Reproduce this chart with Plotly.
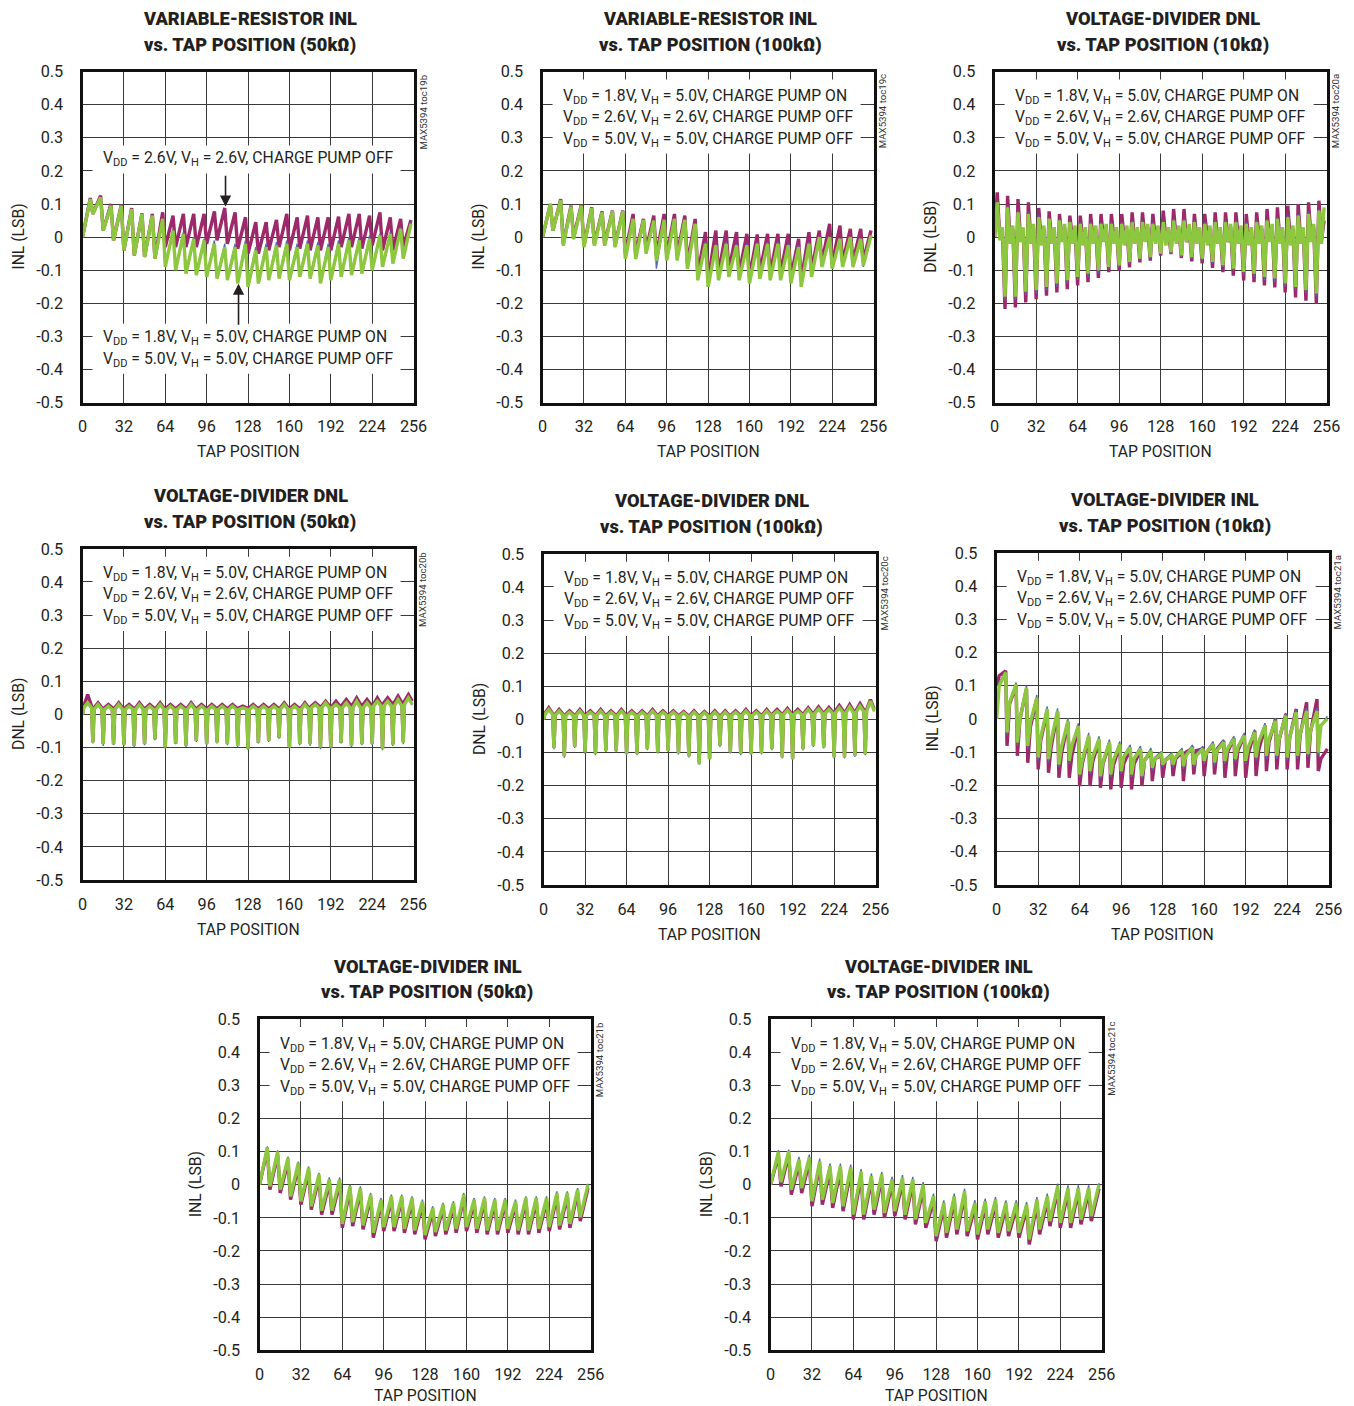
import plotly.graph_objects as go

# ------------------------------------------------------------------ data
TOOTH_START = [0, 8, 16, 24, 32, 40, 48, 56, 64, 72, 80, 88, 96, 104, 112, 120,
               128, 136, 144, 152, 160, 168, 176, 184, 192, 200, 208, 216, 224, 232, 240, 248]
X_TICKS = [0, 32, 64, 96, 128, 160, 192, 224, 256]
X_TICK_TEXT = ["0", "32", "64", "96", "128", "160", "192", "224", "256"]
Y_TICKS = [-0.5, -0.4, -0.3, -0.2, -0.1, 0.0, 0.1, 0.2, 0.3, 0.4, 0.5]
Y_TICK_TEXT = ["-0.5", "-0.4", "-0.3", "-0.2", "-0.1", "0", "0.1", "0.2", "0.3", "0.4", "0.5"]

LEG_LINES = [
    "V<sub>DD</sub> = 1.8V, V<sub>H</sub> = 5.0V, CHARGE PUMP ON",
    "V<sub>DD</sub> = 2.6V, V<sub>H</sub> = 2.6V, CHARGE PUMP OFF",
    "V<sub>DD</sub> = 5.0V, V<sub>H</sub> = 5.0V, CHARGE PUMP OFF",
]

# chart 1 : variable-resistor INL 50k (valley / peak of each 8-tap tooth)
C1_M_LO = [0.0, 0.07, 0.02, -0.01, -0.04, -0.055, -0.06, -0.065,
           -0.03, -0.03, -0.03, -0.03, -0.02, -0.01, -0.02, -0.035,
           -0.05, -0.05, -0.04, -0.03, -0.04, -0.035, -0.04, -0.04,
           -0.04, -0.03, -0.03, -0.035, -0.025, -0.04, -0.04, -0.03]
C1_M_HI = [0.118, 0.125, 0.1, 0.098, 0.088, 0.072, 0.07, 0.075,
           0.065, 0.07, 0.07, 0.07, 0.078, 0.088, 0.075, 0.06,
           0.045, 0.045, 0.052, 0.07, 0.06, 0.065, 0.06, 0.06,
           0.062, 0.07, 0.07, 0.065, 0.075, 0.06, 0.055, 0.052]
C1_B_LO = [0.0, 0.07, 0.02, -0.01, -0.04, -0.055, -0.06, -0.065,
           -0.085, -0.095, -0.105, -0.11, -0.115, -0.12, -0.125, -0.135,
           -0.145, -0.135, -0.125, -0.12, -0.125, -0.115, -0.12, -0.135,
           -0.125, -0.115, -0.11, -0.105, -0.095, -0.085, -0.075, -0.06]
C1_B_HI = [0.115, 0.12, 0.095, 0.095, 0.085, 0.07, 0.065, 0.055,
           0.025, 0.015, 0.0, -0.005, -0.01, -0.02, -0.02, -0.01,
           -0.03, -0.02, -0.015, -0.01, -0.02, -0.01, -0.015, -0.02,
           -0.01, 0.0, 0.0, 0.005, 0.01, 0.015, 0.03, 0.045]
C1_G_LO = [0.0, 0.07, 0.02, -0.01, -0.04, -0.055, -0.06, -0.065,
           -0.09, -0.1, -0.11, -0.115, -0.12, -0.125, -0.13, -0.14,
           -0.15, -0.14, -0.13, -0.125, -0.13, -0.12, -0.125, -0.14,
           -0.13, -0.12, -0.115, -0.11, -0.1, -0.09, -0.08, -0.065]
C1_G_HI = [0.115, 0.12, 0.095, 0.095, 0.085, 0.07, 0.065, 0.055,
           0.02, 0.01, -0.005, -0.01, -0.02, -0.03, -0.03, -0.02,
           -0.04, -0.03, -0.025, -0.02, -0.03, -0.02, -0.025, -0.03,
           -0.02, -0.01, -0.01, -0.005, 0.005, 0.01, 0.025, 0.04]

# chart 2 : variable-resistor INL 100k
C2_M_LO = [0.0, 0.02, -0.02, 0.0, -0.025, -0.02, -0.02, -0.025,
           -0.05, -0.05, -0.04, -0.055, -0.055, -0.055, -0.08, -0.11,
           -0.13, -0.11, -0.1, -0.11, -0.12, -0.105, -0.11, -0.11,
           -0.12, -0.13, -0.1, -0.075, -0.08, -0.075, -0.075, -0.07]
C2_M_HI = [0.1, 0.115, 0.095, 0.098, 0.09, 0.078, 0.08, 0.08,
           0.07, 0.055, 0.065, 0.07, 0.07, 0.065, 0.055, 0.015,
           0.02, 0.02, 0.015, 0.01, 0.008, 0.01, 0.01, 0.01,
           -0.005, 0.015, 0.02, 0.04, 0.035, 0.025, 0.025, 0.02]
C2_B_LO = [0.0, 0.02, -0.026, -0.006, -0.03, -0.026, -0.026, -0.03,
           -0.066, -0.066, -0.05, -0.095, -0.07, -0.07, -0.096, -0.13,
           -0.15, -0.13, -0.12, -0.13, -0.14, -0.126, -0.13, -0.13,
           -0.14, -0.15, -0.12, -0.09, -0.095, -0.09, -0.09, -0.09]
C2_B_HI = [0.1, 0.112, 0.092, 0.095, 0.088, 0.075, 0.078, 0.078,
           0.055, 0.052, 0.05, 0.052, 0.055, 0.052, 0.04, -0.015,
           -0.02, -0.015, -0.02, -0.02, -0.015, -0.015, -0.015, -0.02,
           -0.025, -0.015, 0.0, 0.0, -0.005, 0.0, -0.005, 0.0]
C2_G_LO = [0.0, 0.02, -0.026, -0.006, -0.03, -0.026, -0.026, -0.03,
           -0.066, -0.066, -0.05, -0.07, -0.07, -0.07, -0.096, -0.13,
           -0.15, -0.13, -0.12, -0.13, -0.14, -0.126, -0.13, -0.13,
           -0.14, -0.15, -0.12, -0.09, -0.095, -0.09, -0.09, -0.086]
C2_G_HI = [0.1, 0.112, 0.092, 0.095, 0.088, 0.075, 0.078, 0.078,
           0.055, 0.052, 0.05, 0.052, 0.055, 0.052, 0.04, -0.02,
           -0.025, -0.02, -0.025, -0.025, -0.02, -0.02, -0.02, -0.025,
           -0.03, -0.02, 0.0, 0.0, -0.005, 0.0, -0.005, 0.005]

# chart 3 : voltage-divider DNL 10k (down spike, up spike, two baseline values)
C3_M_D = [0.0, -0.217, -0.212, -0.197, -0.187, -0.177, -0.167, -0.157,
          -0.146, -0.136, -0.123, -0.106, -0.101, -0.091, -0.076, -0.071,
          -0.056, -0.051, -0.063, -0.073, -0.079, -0.093, -0.106, -0.116,
          -0.131, -0.136, -0.146, -0.152, -0.167, -0.182, -0.192, -0.2]
C3_M_U = [0.135, 0.125, 0.115, 0.105, 0.088, 0.078, 0.07, 0.065,
          0.065, 0.07, 0.07, 0.07, 0.07, 0.075, 0.075, 0.07,
          0.08, 0.085, 0.085, 0.07, 0.07, 0.075, 0.075, 0.075,
          0.07, 0.075, 0.085, 0.09, 0.095, 0.1, 0.105, 0.11]
C3_M_B = [0.0, -0.01, -0.005, -0.01, -0.015, -0.01, -0.01, -0.005,
          -0.01, -0.015, -0.01, -0.005, -0.01, -0.015, -0.01, -0.01,
          -0.005, -0.01, -0.015, -0.01, -0.005, -0.01, -0.015, -0.01,
          -0.01, -0.005, -0.01, -0.015, -0.01, -0.01, -0.005, -0.01]
C3_M_C = [0.02, 0.025, 0.02, 0.03, 0.025, 0.02, 0.03, 0.025,
          0.02, 0.025, 0.03, 0.02, 0.025, 0.02, 0.03, 0.025,
          0.02, 0.025, 0.03, 0.02, 0.025, 0.02, 0.03, 0.025,
          0.02, 0.025, 0.03, 0.02, 0.025, 0.02, 0.03, 0.05]
C3_B_D = [0.0, -0.19, -0.19, -0.175, -0.17, -0.16, -0.15, -0.14,
          -0.13, -0.12, -0.11, -0.095, -0.09, -0.08, -0.07, -0.065,
          -0.05, -0.05, -0.06, -0.065, -0.07, -0.08, -0.09, -0.1,
          -0.115, -0.12, -0.13, -0.135, -0.15, -0.16, -0.17, -0.18]
C3_B_U = [0.11, 0.095, 0.08, 0.075, 0.065, 0.06, 0.055, 0.05,
          0.045, 0.045, 0.045, 0.045, 0.045, 0.05, 0.05, 0.045,
          0.05, 0.055, 0.055, 0.05, 0.045, 0.05, 0.05, 0.05,
          0.045, 0.05, 0.055, 0.06, 0.065, 0.07, 0.075, 0.085]
C3_B_B = [-0.005, -0.015, -0.01, -0.015, -0.02, -0.015, -0.01, -0.015,
          -0.02, -0.015, -0.01, -0.015, -0.02, -0.015, -0.01, -0.015,
          -0.02, -0.015, -0.01, -0.015, -0.02, -0.015, -0.01, -0.015,
          -0.02, -0.015, -0.01, -0.015, -0.02, -0.015, -0.01, -0.015]
C3_B_C = [0.025, 0.03, 0.025, 0.035, 0.03, 0.025, 0.035, 0.03,
          0.025, 0.03, 0.035, 0.025, 0.03, 0.025, 0.035, 0.03,
          0.025, 0.03, 0.035, 0.025, 0.03, 0.025, 0.035, 0.03,
          0.025, 0.03, 0.035, 0.025, 0.03, 0.025, 0.035, 0.08]
C3_G_D = [0.0, -0.18, -0.18, -0.165, -0.16, -0.15, -0.14, -0.13,
          -0.12, -0.11, -0.1, -0.09, -0.085, -0.075, -0.065, -0.06,
          -0.05, -0.045, -0.055, -0.06, -0.065, -0.075, -0.085, -0.095,
          -0.105, -0.11, -0.12, -0.125, -0.14, -0.15, -0.16, -0.17]
C3_G_U = [0.105, 0.09, 0.075, 0.07, 0.06, 0.055, 0.05, 0.045,
          0.04, 0.04, 0.04, 0.04, 0.04, 0.045, 0.045, 0.04,
          0.045, 0.05, 0.05, 0.045, 0.04, 0.045, 0.045, 0.045,
          0.04, 0.045, 0.05, 0.055, 0.06, 0.065, 0.07, 0.08]
C3_G_B = [-0.01, -0.02, -0.015, -0.02, -0.025, -0.02, -0.015, -0.02,
          -0.025, -0.02, -0.015, -0.02, -0.025, -0.02, -0.015, -0.02,
          -0.025, -0.02, -0.015, -0.02, -0.025, -0.02, -0.015, -0.02,
          -0.025, -0.02, -0.015, -0.02, -0.025, -0.02, -0.015, -0.02]
C3_G_C = [0.03, 0.035, 0.03, 0.04, 0.035, 0.03, 0.04, 0.035,
          0.03, 0.035, 0.04, 0.03, 0.035, 0.03, 0.04, 0.035,
          0.03, 0.035, 0.04, 0.03, 0.035, 0.03, 0.04, 0.035,
          0.03, 0.035, 0.04, 0.03, 0.035, 0.03, 0.04, 0.09]

# chart 4 : voltage-divider DNL 50k
C4_M_D = [0.0, -0.083, -0.088, -0.09, -0.09, -0.093, -0.088, -0.075,
          -0.098, -0.088, -0.093, -0.08, -0.088, -0.083, -0.088, -0.093,
          -0.103, -0.085, -0.08, -0.07, -0.098, -0.088, -0.088, -0.098,
          -0.098, -0.085, -0.093, -0.088, -0.088, -0.103, -0.09, -0.083]
C4_M_B = [0.025, 0.02, 0.02, 0.02, 0.02, 0.02, 0.02, 0.02,
          0.02, 0.02, 0.02, 0.02, 0.02, 0.02, 0.02, 0.02,
          0.02, 0.02, 0.02, 0.02, 0.02, 0.02, 0.025, 0.025,
          0.025, 0.03, 0.03, 0.03, 0.03, 0.035, 0.035, 0.04]
C4_M_C = [0.06, 0.035, 0.03, 0.035, 0.03, 0.035, 0.03, 0.035,
          0.03, 0.03, 0.035, 0.03, 0.03, 0.03, 0.03, 0.025,
          0.03, 0.03, 0.03, 0.035, 0.03, 0.035, 0.035, 0.04,
          0.04, 0.045, 0.05, 0.045, 0.05, 0.05, 0.055, 0.06]
C4_B_D = [0.0, -0.088, -0.095, -0.092, -0.095, -0.098, -0.093, -0.078,
          -0.103, -0.09, -0.098, -0.083, -0.093, -0.088, -0.093, -0.098,
          -0.108, -0.088, -0.083, -0.073, -0.103, -0.093, -0.095, -0.105,
          -0.104, -0.088, -0.098, -0.093, -0.093, -0.108, -0.095, -0.09]
C4_B_B = [0.018, 0.014, 0.014, 0.014, 0.014, 0.014, 0.014, 0.014,
          0.014, 0.014, 0.014, 0.014, 0.014, 0.014, 0.014, 0.014,
          0.014, 0.014, 0.014, 0.014, 0.014, 0.014, 0.018, 0.018,
          0.018, 0.018, 0.018, 0.018, 0.022, 0.022, 0.022, 0.028]
C4_B_C = [0.032, 0.028, 0.024, 0.028, 0.024, 0.028, 0.024, 0.028,
          0.024, 0.024, 0.028, 0.024, 0.024, 0.024, 0.024, 0.02,
          0.024, 0.024, 0.024, 0.028, 0.024, 0.028, 0.028, 0.032,
          0.028, 0.032, 0.038, 0.032, 0.038, 0.038, 0.042, 0.048]
C4_G_D = [0.0, -0.085, -0.09, -0.09, -0.092, -0.095, -0.09, -0.075,
          -0.1, -0.088, -0.095, -0.08, -0.09, -0.085, -0.09, -0.095,
          -0.105, -0.085, -0.08, -0.07, -0.1, -0.09, -0.09, -0.1,
          -0.1, -0.085, -0.095, -0.09, -0.09, -0.105, -0.092, -0.085]
C4_G_B = [0.02, 0.015, 0.015, 0.015, 0.015, 0.015, 0.015, 0.015,
          0.015, 0.015, 0.015, 0.015, 0.015, 0.015, 0.015, 0.015,
          0.015, 0.015, 0.015, 0.015, 0.015, 0.015, 0.02, 0.02,
          0.02, 0.02, 0.02, 0.02, 0.025, 0.025, 0.025, 0.03]
C4_G_C = [0.035, 0.03, 0.025, 0.03, 0.025, 0.03, 0.025, 0.03,
          0.025, 0.025, 0.03, 0.025, 0.025, 0.025, 0.025, 0.02,
          0.025, 0.025, 0.025, 0.03, 0.025, 0.03, 0.03, 0.035,
          0.03, 0.035, 0.04, 0.035, 0.04, 0.04, 0.045, 0.05]

# chart 5 : voltage-divider DNL 100k
C5_M_D = [0.0, -0.085, -0.11, -0.082, -0.098, -0.103, -0.093, -0.095,
          -0.103, -0.103, -0.088, -0.098, -0.093, -0.1, -0.11, -0.13,
          -0.118, -0.078, -0.098, -0.103, -0.103, -0.1, -0.088, -0.112,
          -0.118, -0.088, -0.078, -0.083, -0.112, -0.112, -0.108, -0.103]
C5_M_B = [0.018, 0.015, 0.015, 0.015, 0.015, 0.015, 0.015, 0.015,
          0.015, 0.015, 0.015, 0.015, 0.015, 0.013, 0.013, 0.013,
          0.013, 0.013, 0.015, 0.015, 0.015, 0.015, 0.018, 0.018,
          0.018, 0.02, 0.022, 0.022, 0.025, 0.025, 0.028, 0.03]
C5_M_C = [0.035, 0.03, 0.026, 0.03, 0.026, 0.03, 0.026, 0.03,
          0.026, 0.026, 0.03, 0.026, 0.026, 0.024, 0.026, 0.024,
          0.026, 0.026, 0.026, 0.03, 0.026, 0.03, 0.03, 0.033,
          0.03, 0.035, 0.038, 0.036, 0.042, 0.045, 0.048, 0.06]
C5_B_D = [0.0, -0.09, -0.116, -0.086, -0.104, -0.108, -0.098, -0.1,
          -0.108, -0.108, -0.093, -0.103, -0.098, -0.106, -0.115, -0.137,
          -0.123, -0.083, -0.103, -0.108, -0.108, -0.106, -0.093, -0.118,
          -0.123, -0.093, -0.083, -0.088, -0.118, -0.118, -0.113, -0.108]
C5_B_B = [0.014, 0.011, 0.011, 0.011, 0.011, 0.011, 0.011, 0.011,
          0.011, 0.011, 0.011, 0.011, 0.011, 0.009, 0.009, 0.009,
          0.009, 0.009, 0.011, 0.011, 0.011, 0.011, 0.014, 0.014,
          0.014, 0.014, 0.017, 0.017, 0.019, 0.019, 0.021, 0.024]
C5_B_C = [0.028, 0.024, 0.021, 0.024, 0.021, 0.024, 0.021, 0.024,
          0.021, 0.021, 0.024, 0.021, 0.021, 0.019, 0.021, 0.019,
          0.021, 0.021, 0.021, 0.024, 0.021, 0.024, 0.024, 0.027,
          0.024, 0.029, 0.031, 0.029, 0.034, 0.037, 0.039, 0.052]
C5_G_D = [0.0, -0.087, -0.112, -0.083, -0.1, -0.105, -0.095, -0.097,
          -0.105, -0.105, -0.09, -0.1, -0.095, -0.103, -0.112, -0.135,
          -0.12, -0.08, -0.1, -0.105, -0.105, -0.103, -0.09, -0.115,
          -0.12, -0.09, -0.08, -0.085, -0.115, -0.115, -0.11, -0.105]
C5_G_B = [0.015, 0.012, 0.012, 0.012, 0.012, 0.012, 0.012, 0.012,
          0.012, 0.012, 0.012, 0.012, 0.012, 0.01, 0.01, 0.01,
          0.01, 0.01, 0.012, 0.012, 0.012, 0.012, 0.015, 0.015,
          0.015, 0.015, 0.018, 0.018, 0.02, 0.02, 0.022, 0.025]
C5_G_C = [0.03, 0.025, 0.022, 0.025, 0.022, 0.025, 0.022, 0.025,
          0.022, 0.022, 0.025, 0.022, 0.022, 0.02, 0.022, 0.02,
          0.022, 0.022, 0.022, 0.025, 0.022, 0.025, 0.025, 0.028,
          0.025, 0.03, 0.032, 0.03, 0.035, 0.038, 0.04, 0.055]

# chart 6 : voltage-divider INL 10k (notch, restart after notch, top of tooth)
C6_M_N = [0.1, -0.081, -0.111, -0.132, -0.152, -0.162, -0.177, -0.177,
          -0.202, -0.202, -0.207, -0.212, -0.207, -0.212, -0.202, -0.187,
          -0.177, -0.172, -0.187, -0.167, -0.172, -0.167, -0.177, -0.172,
          -0.177, -0.172, -0.157, -0.152, -0.152, -0.152, -0.147, -0.157]
C6_M_R = [0.13, 0.045, 0.0, -0.025, -0.065, -0.085, -0.105, -0.11,
          -0.135, -0.13, -0.135, -0.14, -0.135, -0.135, -0.125, -0.12,
          -0.125, -0.12, -0.1, -0.095, -0.1, -0.09, -0.1, -0.095,
          -0.105, -0.095, -0.07, -0.06, -0.055, -0.05, -0.04, -0.12]
C6_M_T = [0.145, 0.1, 0.09, 0.06, 0.025, 0.02, -0.01, -0.025,
          -0.055, -0.065, -0.075, -0.08, -0.09, -0.095, -0.1, -0.11,
          -0.11, -0.1, -0.09, -0.09, -0.08, -0.066, -0.058, -0.05,
          -0.036, -0.02, 0.0, 0.015, 0.03, 0.05, 0.06, -0.09]
C6_B_N = [0.05, -0.05, -0.08, -0.09, -0.125, -0.13, -0.145, -0.135,
          -0.175, -0.165, -0.18, -0.175, -0.165, -0.175, -0.18, -0.155,
          -0.145, -0.145, -0.15, -0.145, -0.135, -0.14, -0.135, -0.13,
          -0.135, -0.125, -0.12, -0.12, -0.125, -0.12, -0.115, -0.11]
C6_B_R = [0.11, 0.05, 0.0, -0.01, -0.055, -0.065, -0.085, -0.08,
          -0.12, -0.11, -0.125, -0.12, -0.11, -0.115, -0.12, -0.115,
          -0.12, -0.11, -0.105, -0.105, -0.095, -0.09, -0.085, -0.08,
          -0.08, -0.065, -0.055, -0.05, -0.05, -0.04, -0.03, -0.02]
C6_B_T = [0.145, 0.11, 0.1, 0.072, 0.038, 0.032, 0.002, -0.013,
          -0.042, -0.052, -0.062, -0.068, -0.078, -0.082, -0.088, -0.098,
          -0.102, -0.088, -0.078, -0.082, -0.068, -0.062, -0.052, -0.042,
          -0.032, -0.012, 0.002, 0.018, 0.028, 0.032, 0.032, 0.008]
C6_G_N = [0.0, -0.041, -0.071, -0.081, -0.116, -0.121, -0.137, -0.126,
          -0.167, -0.157, -0.172, -0.167, -0.157, -0.167, -0.172, -0.147,
          -0.137, -0.137, -0.142, -0.137, -0.126, -0.131, -0.126, -0.121,
          -0.126, -0.116, -0.111, -0.111, -0.116, -0.111, -0.106, -0.101]
C6_G_R = [0.1, 0.05, 0.0, -0.01, -0.055, -0.065, -0.085, -0.08,
          -0.125, -0.115, -0.13, -0.125, -0.115, -0.12, -0.125, -0.12,
          -0.125, -0.115, -0.11, -0.11, -0.1, -0.095, -0.09, -0.085,
          -0.085, -0.07, -0.06, -0.055, -0.055, -0.045, -0.035, -0.02]
C6_G_T = [0.14, 0.104, 0.094, 0.064, 0.03, 0.024, -0.006, -0.021,
          -0.05, -0.06, -0.07, -0.076, -0.086, -0.09, -0.096, -0.106,
          -0.11, -0.096, -0.086, -0.09, -0.076, -0.07, -0.06, -0.05,
          -0.04, -0.02, -0.006, 0.01, 0.02, 0.024, 0.024, 0.0]

# chart 7 : voltage-divider INL 50k
C7_M_LO = [0.0, -0.015, -0.025, -0.045, -0.06, -0.075, -0.09, -0.09,
           -0.13, -0.125, -0.135, -0.16, -0.14, -0.14, -0.145, -0.15,
           -0.165, -0.155, -0.15, -0.145, -0.14, -0.145, -0.15, -0.15,
           -0.145, -0.15, -0.15, -0.145, -0.14, -0.135, -0.13, -0.11]
C7_M_HI = [0.105, 0.09, 0.07, 0.055, 0.04, 0.02, 0.005, 0.005,
           -0.015, -0.02, -0.04, -0.055, -0.045, -0.045, -0.05, -0.06,
           -0.08, -0.07, -0.065, -0.04, -0.055, -0.05, -0.055, -0.055,
           -0.06, -0.05, -0.05, -0.05, -0.035, -0.035, -0.025, -0.01]
C7_B_LO = [0.0, -0.006, -0.016, -0.036, -0.051, -0.066, -0.079, -0.079,
           -0.119, -0.114, -0.124, -0.146, -0.129, -0.129, -0.134, -0.139,
           -0.153, -0.144, -0.139, -0.134, -0.129, -0.134, -0.139, -0.139,
           -0.134, -0.139, -0.139, -0.134, -0.129, -0.124, -0.119, -0.099]
C7_B_HI = [0.116, 0.104, 0.085, 0.07, 0.055, 0.036, 0.022, 0.022,
           0.0, -0.005, -0.025, -0.04, -0.03, -0.03, -0.035, -0.045,
           -0.065, -0.055, -0.05, -0.025, -0.04, -0.035, -0.04, -0.04,
           -0.045, -0.035, -0.035, -0.035, -0.02, -0.02, -0.01, 0.003]
C7_G_LO = [0.0, -0.005, -0.015, -0.035, -0.05, -0.065, -0.078, -0.078,
           -0.118, -0.113, -0.123, -0.145, -0.128, -0.128, -0.133, -0.138,
           -0.152, -0.143, -0.138, -0.133, -0.128, -0.133, -0.138, -0.138,
           -0.133, -0.138, -0.138, -0.133, -0.128, -0.123, -0.118, -0.098]
C7_G_HI = [0.113, 0.1, 0.081, 0.066, 0.051, 0.031, 0.016, 0.016,
           -0.005, -0.01, -0.03, -0.045, -0.035, -0.035, -0.04, -0.05,
           -0.07, -0.06, -0.055, -0.03, -0.045, -0.04, -0.045, -0.045,
           -0.05, -0.04, -0.04, -0.04, -0.025, -0.025, -0.015, 0.0]

# chart 8 : voltage-divider INL 100k
C8_M_LO = [0.0, -0.005, -0.03, -0.025, -0.065, -0.06, -0.07, -0.08,
           -0.105, -0.105, -0.09, -0.1, -0.095, -0.105, -0.12, -0.13,
           -0.17, -0.16, -0.15, -0.155, -0.165, -0.15, -0.16, -0.155,
           -0.16, -0.18, -0.15, -0.125, -0.13, -0.13, -0.12, -0.11]
C8_M_HI = [0.088, 0.09, 0.064, 0.07, 0.058, 0.044, 0.044, 0.04,
           0.026, 0.014, 0.018, 0.004, 0.008, 0.004, -0.012, -0.048,
           -0.068, -0.048, -0.032, -0.068, -0.062, -0.058, -0.068, -0.068,
           -0.072, -0.058, -0.048, -0.018, -0.022, -0.022, -0.022, -0.012]
C8_B_LO = [0.0, 0.006, -0.017, -0.012, -0.052, -0.047, -0.057, -0.067,
           -0.092, -0.092, -0.077, -0.087, -0.082, -0.092, -0.107, -0.117,
           -0.157, -0.147, -0.137, -0.142, -0.152, -0.137, -0.147, -0.142,
           -0.147, -0.167, -0.137, -0.112, -0.117, -0.117, -0.107, -0.097]
C8_B_HI = [0.104, 0.106, 0.084, 0.091, 0.079, 0.064, 0.064, 0.061,
           0.047, 0.034, 0.039, 0.024, 0.029, 0.024, 0.008, -0.027,
           -0.047, -0.027, -0.012, -0.047, -0.042, -0.037, -0.047, -0.047,
           -0.052, -0.037, -0.027, 0.003, -0.002, -0.002, -0.002, 0.005]
C8_G_LO = [0.0, 0.008, -0.015, -0.01, -0.05, -0.045, -0.055, -0.065,
           -0.09, -0.09, -0.075, -0.085, -0.08, -0.09, -0.105, -0.115,
           -0.155, -0.145, -0.135, -0.14, -0.15, -0.135, -0.145, -0.14,
           -0.145, -0.165, -0.135, -0.11, -0.115, -0.115, -0.105, -0.095]
C8_G_HI = [0.099, 0.101, 0.076, 0.083, 0.071, 0.056, 0.056, 0.053,
           0.039, 0.026, 0.031, 0.016, 0.021, 0.016, 0.0, -0.035,
           -0.055, -0.035, -0.02, -0.055, -0.05, -0.045, -0.055, -0.055,
           -0.06, -0.045, -0.035, -0.005, -0.01, -0.01, -0.01, 0.0]

# ------------------------------------------------------------------ styling / layout
# Screen positions below are those of the reference picture.  The photographed
# page comes out at ~0.986 of the CSS size with a small offset, so the figure is
# made a little larger and screen positions are converted to figure pixels.
S = 0.986
CX, CY = 4.5, 8.5
W, H = 1370, 1418
K = 1 / S
FONT = "Roboto, Liberation Sans, sans-serif"
MAG, BLU, GRN = "#9c2a6b", "#5a68b2", "#8dc63f"
TXT = "#231f20"

# tap offsets inside each 8-tap tooth at which the read values sit
SAW = [(0, "lo"), (6, "hi")]
DNL10 = [(0, "D"), (2, "U"), (4, "B"), (6, "C")]
DNL = [(0, "D"), (1, "B"), (4, "C"), (7, "B")]
NOTCH = [(0, "N"), (2, "R"), (7, "T")]

CHARTS = [
    dict(frame=(82, 71, 413, 402), title=("VARIABLE-RESISTOR INL", "vs. TAP POSITION (50kΩ)"),
         ylab="INL (LSB)", code="MAX5394 toc19b", spec=SAW, legend="split",
         series=[{"lo": C1_M_LO, "hi": C1_M_HI}, {"lo": C1_B_LO, "hi": C1_B_HI}, {"lo": C1_G_LO, "hi": C1_G_HI}]),
    dict(frame=(542, 71, 873, 402), title=("VARIABLE-RESISTOR INL", "vs. TAP POSITION (100kΩ)"),
         ylab="INL (LSB)", code="MAX5394 toc19c", spec=SAW, legend="top",
         series=[{"lo": C2_M_LO, "hi": C2_M_HI}, {"lo": C2_B_LO, "hi": C2_B_HI}, {"lo": C2_G_LO, "hi": C2_G_HI}]),
    dict(frame=(994, 71, 1326, 402), title=("VOLTAGE-DIVIDER DNL", "vs. TAP POSITION (10kΩ)"),
         ylab="DNL (LSB)", code="MAX5394 toc20a", spec=DNL10, legend="top",
         series=[{"D": C3_M_D, "U": C3_M_U, "B": C3_M_B, "C": C3_M_C},
                 {"D": C3_B_D, "U": C3_B_U, "B": C3_B_B, "C": C3_B_C},
                 {"D": C3_G_D, "U": C3_G_U, "B": C3_G_B, "C": C3_G_C}]),
    dict(frame=(82, 548, 413, 879), title=("VOLTAGE-DIVIDER DNL", "vs. TAP POSITION (50kΩ)"),
         ylab="DNL (LSB)", code="MAX5394 toc20b", spec=DNL, legend="top",
         series=[{"D": C4_M_D, "B": C4_M_B, "C": C4_M_C},
                 {"D": C4_B_D, "B": C4_B_B, "C": C4_B_C},
                 {"D": C4_G_D, "B": C4_G_B, "C": C4_G_C}]),
    dict(frame=(543, 553, 875, 884), title=("VOLTAGE-DIVIDER DNL", "vs. TAP POSITION (100kΩ)"),
         ylab="DNL (LSB)", code="MAX5394 toc20c", spec=DNL, legend="top",
         series=[{"D": C5_M_D, "B": C5_M_B, "C": C5_M_C},
                 {"D": C5_B_D, "B": C5_B_B, "C": C5_B_C},
                 {"D": C5_G_D, "B": C5_G_B, "C": C5_G_C}]),
    dict(frame=(996, 552, 1328, 884), title=("VOLTAGE-DIVIDER INL", "vs. TAP POSITION (10kΩ)"),
         ylab="INL (LSB)", code="MAX5394 toc21a", spec=NOTCH, legend="top",
         series=[{"N": C6_M_N, "R": C6_M_R, "T": C6_M_T},
                 {"N": C6_B_N, "R": C6_B_R, "T": C6_B_T},
                 {"N": C6_G_N, "R": C6_G_R, "T": C6_G_T}]),
    dict(frame=(259, 1018, 590, 1349), title=("VOLTAGE-DIVIDER INL", "vs. TAP POSITION (50kΩ)"),
         ylab="INL (LSB)", code="MAX5394 toc21b", spec=SAW, legend="top",
         series=[{"lo": C7_M_LO, "hi": C7_M_HI}, {"lo": C7_B_LO, "hi": C7_B_HI}, {"lo": C7_G_LO, "hi": C7_G_HI}]),
    dict(frame=(770, 1018, 1101, 1349), title=("VOLTAGE-DIVIDER INL", "vs. TAP POSITION (100kΩ)"),
         ylab="INL (LSB)", code="MAX5394 toc21c", spec=SAW, legend="top",
         series=[{"lo": C8_M_LO, "hi": C8_M_HI}, {"lo": C8_B_LO, "hi": C8_B_HI}, {"lo": C8_G_LO, "hi": C8_G_HI}]),
]

STYLES = [dict(color=MAG, width=3.4), dict(color=BLU, width=1.4), dict(color=GRN, width=3.4)]


def polyline(spec, arrs):
    xs, ys = [], []
    for k, t0 in enumerate(TOOTH_START):
        for off, key in spec:
            xs.append(t0 + off)
            ys.append(arrs[key][k])
    return xs, ys


def px(x):
    return ((x - CX) / S) / W


def py(y):
    return 1 - ((y - CY) / S) / H


def text(x, y, s, size, xanchor="center", angle=0, color=TXT, weight="normal", yanchor="middle"):
    return dict(x=px(x), y=py(y), xref="paper", yref="paper", text=s, showarrow=False,
                xanchor=xanchor, yanchor=yanchor, textangle=angle,
                font=dict(family=FONT, size=size * K, color=color, weight=weight))


def white_box(x0, y0, x1, y1):
    return dict(type="rect", xref="paper", yref="paper", x0=px(x0), x1=px(x1),
                y0=py(y1), y1=py(y0), fillcolor="white", line=dict(width=0), layer="above")


fig = go.Figure()
layout = dict(width=W, height=H, margin=dict(l=0, r=0, t=0, b=0),
              paper_bgcolor="white", plot_bgcolor="white", showlegend=False,
              hovermode=False, font=dict(family=FONT, color=TXT, size=16 * K))
annotations = []
shapes = []

for i, ch in enumerate(CHARTS, start=1):
    l, t, r, b = ch["frame"]
    xa = "x" if i == 1 else f"x{i}"
    ya = "y" if i == 1 else f"y{i}"
    for arrs, st in zip(ch["series"], STYLES):
        xs, ys = polyline(ch["spec"], arrs)
        fig.add_trace(go.Scatter(x=xs, y=ys, mode="lines", line=dict(st, shape="linear"),
                                 xaxis=xa, yaxis=ya, hoverinfo="skip"))
    common = dict(showgrid=True, gridcolor="#3a3a3a", gridwidth=1.4, zeroline=False,
                  showline=True, linecolor="#111111", linewidth=3.2, mirror=True,
                  ticks="", tickfont=dict(family=FONT, size=16 * K, color=TXT), fixedrange=True)
    layout["xaxis" if i == 1 else f"xaxis{i}"] = dict(
        common, domain=[px(l), px(r)], range=[0, 256], tickmode="array",
        tickvals=X_TICKS, ticktext=X_TICK_TEXT, anchor=ya, ticklabelstandoff=7)
    layout["yaxis" if i == 1 else f"yaxis{i}"] = dict(
        common, domain=[py(b), py(t)], range=[-0.5, 0.5], tickmode="array",
        tickvals=Y_TICKS, ticktext=Y_TICK_TEXT, anchor=xa, ticklabelstandoff=13)

    cx = (l + r) / 2
    cy = (t + b) / 2
    # two-line bold title
    annotations.append(text(cx + 2, t - 53, ch["title"][0], 18, weight=900))
    annotations.append(text(cx + 2, t - 27, ch["title"][1], 18, weight=900))
    # axis titles (the bottom row sits close to the page edge)
    annotations.append(text(l - 64, cy, ch["ylab"], 15.5, angle=-90))
    annotations.append(text(cx, b + (45 if b > 1300 else 49), "TAP POSITION", 15.5))
    # figure code on the right
    annotations.append(text(r + 9, t + 1, ch["code"], 9.5, angle=-90, color="#333333", yanchor="top"))
    # condition labels on white boxes that hide the grid behind them
    if ch["legend"] == "top":
        shapes.append(white_box(l + 10, t + 8, r - 13, t + 82))
        for j, yy in enumerate((25, 46, 68)):
            annotations.append(text(l + 18, t + yy, LEG_LINES[j], 15.5, xanchor="left"))
    else:
        shapes.append(white_box(l + 10, t + 74, r - 13, t + 102))
        annotations.append(text(l + 18, t + 87, LEG_LINES[1], 15.5, xanchor="left"))
        shapes.append(white_box(l + 10, t + 252, r - 13, t + 302))
        annotations.append(text(l + 18, t + 266, LEG_LINES[0], 15.5, xanchor="left"))
        annotations.append(text(l + 18, t + 288, LEG_LINES[2], 15.5, xanchor="left"))
        # arrows pointing to the curves
        annotations.append(dict(x=px(225), y=py(206), xref="paper", yref="paper", text="",
                                showarrow=True, ax=0, ay=-32 * K, arrowhead=2, arrowsize=1.4,
                                arrowwidth=1.6, arrowcolor=TXT))
        annotations.append(dict(x=px(238), y=py(283), xref="paper", yref="paper", text="",
                                showarrow=True, ax=0, ay=42 * K, arrowhead=2, arrowsize=1.4,
                                arrowwidth=1.6, arrowcolor=TXT))

layout["annotations"] = annotations
layout["shapes"] = shapes
fig.update_layout(**layout)
# the page should show the figure edge to edge, without the browser's default body margin
fig.write_html("out.html", config={"displayModeBar": False},
               post_script="document.body.style.margin='0';document.body.style.overflow='hidden';")
